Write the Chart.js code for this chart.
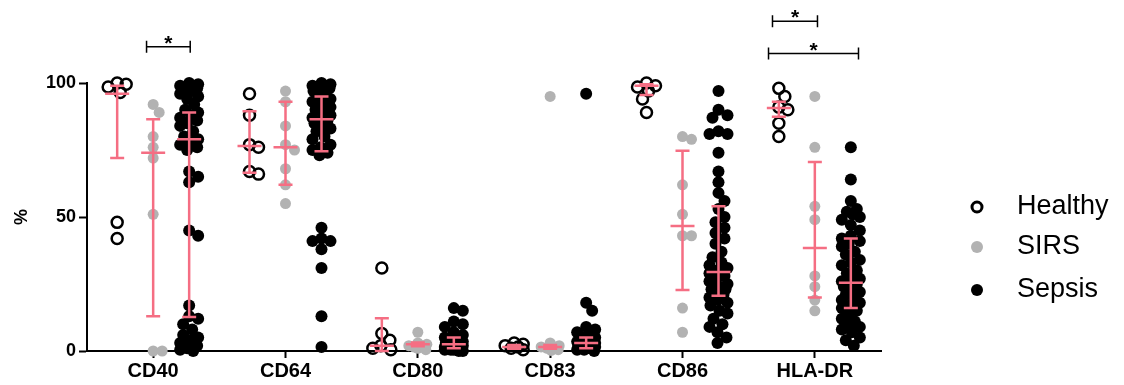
<!DOCTYPE html>
<html>
<script src="https://cdnjs.cloudflare.com/ajax/libs/Chart.js/4.4.1/chart.umd.min.js"></script>
<body style="margin:0;background:#fff">

<canvas id="myChart" width="1124" height="385"></canvas>

<script>

    const categories = ["CD40", "CD64", "CD80", "CD83", "CD86", "HLA-DR"];
    const groups = ["Healthy", "SIRS", "Sepsis"];
    const yTicks = [0, 50, 100];

    // values, one list per marker
    const healthy = [
        [100, 99.5, 98.5, 96.5, 48, 42],
        [96, 88, 77, 76, 67, 66],
        [31, 6.5, 4, 2, 1, 0.5],
        [3, 2.5, 2, 1.5, 1, 0.5],
        [100, 99, 98.5, 97, 94, 89],
        [98, 95, 91, 90, 85, 80]
    ];
    const sirs = [
        [92, 89, 80, 76, 72, 51, 0, 0],
        [97, 93, 84, 77, 75, 68, 62, 55],
        [7, 3, 2.5, 2, 2, 1.5, 1, 0.5],
        [95, 3, 2, 1.5, 1.5, 1, 0.5, 0.2],
        [80, 79, 62, 51, 43, 43, 16, 7],
        [95, 76, 54, 49, 28, 24, 19, 15]
    ];
    const sepsis = [
        [100, 99.5, 99, 99, 98, 98, 97, 96, 95, 94, 92, 90, 89, 88, 87, 86, 85, 84, 82, 80, 79, 78, 77, 76, 75, 67, 65, 63, 45, 43, 17, 13, 12, 10, 8, 6, 5, 4, 3, 2, 1, 0.5, 0],
        [100, 99.5, 99, 99, 98.5, 98, 98, 97, 96, 95, 94, 93, 92, 91, 90, 89, 88, 87, 86, 86, 85, 84, 83, 82, 80, 79, 77, 76, 75, 74, 73, 46, 42, 41, 41, 38, 31, 13, 1.5],
        [16, 15, 11, 10, 9, 7, 6, 5, 4.5, 4, 3.5, 3, 2.5, 2, 2, 2, 1.5, 1.5, 1, 1, 1, 0.5, 0.5, 0.5, 0, 0],
        [96, 18, 15, 9, 8, 7, 6, 5, 5, 4, 4, 3.5, 3, 3, 3, 2.5, 2, 2, 1.5, 1.5, 1, 1, 0.5, 0.5, 0],
        [97, 90, 88, 87, 82, 81, 81, 74, 67, 63, 59, 56, 53, 50, 48, 46, 44, 42, 40, 37, 35, 33, 32, 31, 30, 29, 28, 27, 26, 25, 24, 23, 23, 22, 21, 20, 19, 18, 17, 15, 14, 12, 10, 9, 7, 5, 3],
        [76, 64, 56, 53, 52, 51, 50, 49, 47, 45, 43, 42, 41, 40, 39, 37, 36, 34, 33, 32, 30, 29, 28, 27, 26, 25, 25, 24, 23, 22, 21, 20, 19, 18, 17, 16, 15, 14, 12, 11, 10, 9, 8, 7, 5, 4, 2]
    ];

    // median and interquartile range (pink bars)
    const healthyMedian = [96, 76.5, 2, 1.5, 99, 90.7];
    const healthyQ1 = [72, 66.5, 0, 0.8, 95.5, 87.4];
    const healthyQ3 = [99, 89.5, 12.2, 2.2, 99.5, 93];
    const sirsMedian = [74, 76, 2.5, 1.5, 46.6, 38.4];
    const sirsQ1 = [13, 62, 1.8, 0.8, 22.8, 20];
    const sirsQ3 = [86.5, 93, 3.2, 2.2, 74.7, 70.5];
    const sepsisMedian = [79, 86.5, 2.5, 3, 29.5, 25.5];
    const sepsisQ1 = [12.7, 74.5, 1, 1, 20.6, 16];
    const sepsisQ3 = [89, 95, 5, 5, 54, 42];

    // significance brackets: [from, to] on the category axis, height in %
    const brackets = [
        {from: -0.05, to: 0.28, level: 113.5},
        {from: 4.68, to: 5.02, level: 123},
        {from: 4.65, to: 5.33, level: 111}
    ];

    const area = {left: 87, right: 881, top: 83, bottom: 351};
    const xPx = (area.right - area.left) / categories.length;
    const yPx = (area.bottom - area.top) / 100;
    const groupOffset = [-0.272, 0, 0.272];
    const pink = "#f56e83";
    const font = "Liberation Sans, Arial, sans-serif";

    // spread points sideways so they don't sit on top of each other
    function swarm(values) {
        const placed = [];
        return values.map(v => {
            const py = v * yPx;
            let best = 0, bestD = -1;
            for (let k = 0; k <= 18; k++) {
                const dx = (k % 2 ? 1 : -1) * Math.ceil(k / 2);
                let d = Infinity;
                placed.forEach(p => {
                    d = Math.min(d, Math.hypot(p.dx - dx, p.py - py));
                });
                if (d >= 10) { best = dx; bestD = d; break; }
                if (d > bestD) { bestD = d; best = dx; }
            }
            placed.push({dx: best, py: py});
            return best / xPx;
        });
    }

    function points(lists, g) {
        const out = [];
        lists.forEach((vals, i) => {
            const dx = swarm(vals);
            vals.forEach((v, j) => out.push({x: i + groupOffset[g] + dx[j], y: v}));
        });
        return out;
    }

    const bars = [
        [healthyMedian, healthyQ1, healthyQ3],
        [sirsMedian, sirsQ1, sirsQ3],
        [sepsisMedian, sepsisQ1, sepsisQ3]
    ];

    const extras = {
        id: "extras",
        afterDatasetsDraw(chart) {
            const c = chart.ctx;
            const xs = chart.scales.x, ys = chart.scales.y;
            c.save();
            c.strokeStyle = pink;
            c.lineWidth = 2.5;
            bars.forEach((b, g) => {
                categories.forEach((cat, i) => {
                    const x = xs.getPixelForValue(i + groupOffset[g]);
                    const m = ys.getPixelForValue(b[0][i]);
                    const lo = ys.getPixelForValue(b[1][i]);
                    const hi = ys.getPixelForValue(b[2][i]);
                    c.beginPath();
                    c.moveTo(x, lo); c.lineTo(x, hi);
                    c.moveTo(x - 7, lo); c.lineTo(x + 7, lo);
                    c.moveTo(x - 7, hi); c.lineTo(x + 7, hi);
                    c.moveTo(x - 12, m); c.lineTo(x + 12, m);
                    c.stroke();
                });
            });

            c.strokeStyle = "#000";
            c.fillStyle = "#000";
            c.lineWidth = 1.5;
            c.textAlign = "center";
            c.textBaseline = "alphabetic";
            c.font = "bold 21px " + font;
            brackets.forEach(b => {
                const x1 = xs.getPixelForValue(b.from);
                const x2 = xs.getPixelForValue(b.to);
                const y = ys.getPixelForValue(b.level);
                c.beginPath();
                c.moveTo(x1, y); c.lineTo(x2, y);
                c.moveTo(x1, y - 6); c.lineTo(x1, y + 6);
                c.moveTo(x2, y - 6); c.lineTo(x2, y + 6);
                c.stroke();
                c.fillText("*", (x1 + x2) / 2, y + 3);
            });

            // legend
            const items = [
                {y: 207, fill: "#fff", stroke: "#000"},
                {y: 247, fill: "#b2b2b2", stroke: null},
                {y: 290, fill: "#000", stroke: null}
            ];
            c.font = "27px " + font;
            c.textAlign = "left";
            c.textBaseline = "middle";
            items.forEach((it, k) => {
                c.beginPath();
                c.arc(977, it.y, it.stroke ? 5 : 6, 0, Math.PI * 2);
                c.fillStyle = it.fill;
                c.fill();
                if (it.stroke) {
                    c.lineWidth = 3;
                    c.strokeStyle = it.stroke;
                    c.stroke();
                }
                c.fillStyle = "#000";
                c.fillText(groups[k], 1017, it.y);
            });
            c.restore();
        }
    };

    const myChart = document.getElementById("myChart");
    const chart = new Chart(myChart, {
        type: "scatter",
        data: {
            datasets: [
                {
                    label: groups[1],
                    data: points(sirs, 1),
                    backgroundColor: "#b2b2b2",
                    borderWidth: 0,
                    pointRadius: 5.5,
                    clip: false
                },
                {
                    label: groups[2],
                    data: points(sepsis, 2),
                    backgroundColor: "#000",
                    borderWidth: 0,
                    pointRadius: 6,
                    clip: false
                },
                {
                    label: groups[0],
                    data: points(healthy, 0),
                    backgroundColor: "rgba(255,255,255,0)",
                    borderColor: "#000",
                    borderWidth: 2.5,
                    pointRadius: 5.5,
                    clip: false
                }
            ]
        },
        options: {
            responsive: false,
            animation: false,
            layout: {padding: {left: 0, top: area.top, right: 1124 - area.right, bottom: 0}},
            plugins: {
                legend: {display: false},
                tooltip: {enabled: false}
            },
            scales: {
                x: {
                    type: "linear",
                    min: -0.5,
                    max: 5.5,
                    afterBuildTicks: s => { s.ticks = categories.map((c, i) => ({value: i})); },
                    afterFit: s => { s.height = 385 - area.bottom; },
                    ticks: {
                        callback: v => categories[v],
                        color: "#000",
                        font: {family: font, size: 20, weight: "bold"},
                        padding: 1,
                        maxRotation: 0,
                        autoSkip: false
                    },
                    grid: {drawOnChartArea: false, tickLength: 7, tickWidth: 2, tickColor: "#000"},
                    border: {color: "#000", width: 2}
                },
                y: {
                    min: 0,
                    max: 100,
                    afterBuildTicks: s => { s.ticks = yTicks.map(v => ({value: v})); },
                    afterFit: s => { s.width = area.left; },
                    ticks: {
                        color: "#000",
                        font: {family: font, size: 18, weight: "bold"},
                        padding: 3
                    },
                    grid: {drawOnChartArea: false, tickLength: 8, tickWidth: 2, tickColor: "#000"},
                    border: {color: "#000", width: 2},
                    title: {
                        display: true,
                        text: "%",
                        color: "#000",
                        font: {family: font, size: 18, weight: "bold"},
                        padding: {top: 11}
                    }
                }
            }
        },
        plugins: [extras]
    });

</script>

</body>
</html>
